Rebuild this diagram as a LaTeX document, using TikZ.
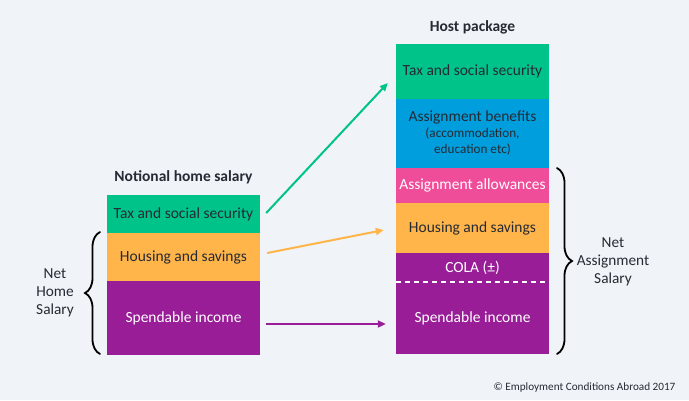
\documentclass[tikz,border=0pt]{standalone}
\usepackage{fontspec}
\setmainfont{Carlito}
\usetikzlibrary{arrows.meta,calc,decorations.pathreplacing}
\definecolor{bg}{HTML}{F0F4F8}
\definecolor{cgreen}{HTML}{00C389}
\definecolor{cblue}{HTML}{009EDD}
\definecolor{cpink}{HTML}{EF4D9A}
\definecolor{corange}{HTML}{FFB54A}
\definecolor{cpurple}{HTML}{981D97}
\definecolor{ctext}{HTML}{262A33}
\begin{document}
\begin{tikzpicture}[x=1pt,y=-1pt,
  block/.style={draw=none,inner sep=0pt,minimum width=153pt,align=center,font=\fontsize{15.5}{17}\selectfont},
  dark/.style={text=ctext},
  light/.style={text=white},
  title/.style={font=\fontsize{15.5}{17}\selectfont\bfseries,text=ctext},
  side/.style={font=\fontsize{15.3}{18}\selectfont,text=ctext,align=center},
  conn/.style={line width=2pt,-{Triangle[length=8pt,width=7pt]}},
  bracestyle/.style={decorate,decoration={brace,amplitude=15pt},line width=1.8pt,line cap=round}]
\fill[bg] (0,0) rectangle (689,400);
\useasboundingbox (0,0) rectangle (689,400);
% left stack
\node[block,dark,fill=cgreen,minimum height=38pt] (lt) at (183.5,214) {Tax and social security};
\node[block,dark,fill=corange,minimum height=48pt] (lh) at (183.5,257) {Housing and savings};
\node[block,light,fill=cpurple,minimum height=74pt] (ls) at (183.5,318) {Spendable income};
\node[title] (ltitle) at (183.5,177) {Notional home salary};
% right stack
\node[block,dark,fill=cgreen,minimum height=55pt] (rt) at (472.5,71.5) {Tax and social security};
\node[block,dark,fill=cblue,minimum height=69pt] (rb) at (472.5,133.5) {Assignment benefits\\[-1pt]{\fontsize{13.2}{16}\selectfont (accommodation,}\\[-1pt]{\fontsize{13.2}{16}\selectfont education etc)}};
\node[block,light,fill=cpink,minimum height=35pt] (rp) at (472.5,185.5) {Assignment allowances};
\node[block,dark,fill=corange,minimum height=50pt] (rh) at (472.5,228) {Housing and savings};
\node[block,light,fill=cpurple,minimum height=29pt] (rc) at (472.5,267.5) {COLA (±)};
\node[block,light,fill=cpurple,minimum height=72pt] (rs) at (472.5,318) {Spendable income};
\node[title] (rtitle) at (472.5,27) {Host package};
\draw[white,line width=1.5pt,dash pattern=on 5pt off 4pt] (rc.south west) -- (rc.south east);
% connectors
\draw[conn,cgreen] ($(lt.east)+(6,-1)$) -- ($(rt.west)+(-8,11.5)$);
\draw[conn,corange] ($(lh.east)+(7,-4)$) -- ($(rh.west)+(-12,2)$);
\draw[conn,cpurple] ($(ls.east)+(6,6)$) -- ($(rs.west)+(-10,6)$);
% braces
\coordinate (lb1) at (100,354);
\coordinate (lb2) at (100,232);
\draw[bracestyle] (lb1) -- (lb2);
\node[side] (nhs) at (55,293) {Net\\Home\\Salary};
\coordinate (rb1) at (557,168);
\coordinate (rb2) at (557,354);
\draw[bracestyle] (rb1) -- (rb2);
\node[side] (nas) at (613,261.5) {Net\\Assignment\\Salary};
% copyright
\node[anchor=east,font=\fontsize{11.2}{13}\selectfont,text=ctext] (copy) at (679,388) {© Employment Conditions Abroad 2017};
\end{tikzpicture}
\end{document}
